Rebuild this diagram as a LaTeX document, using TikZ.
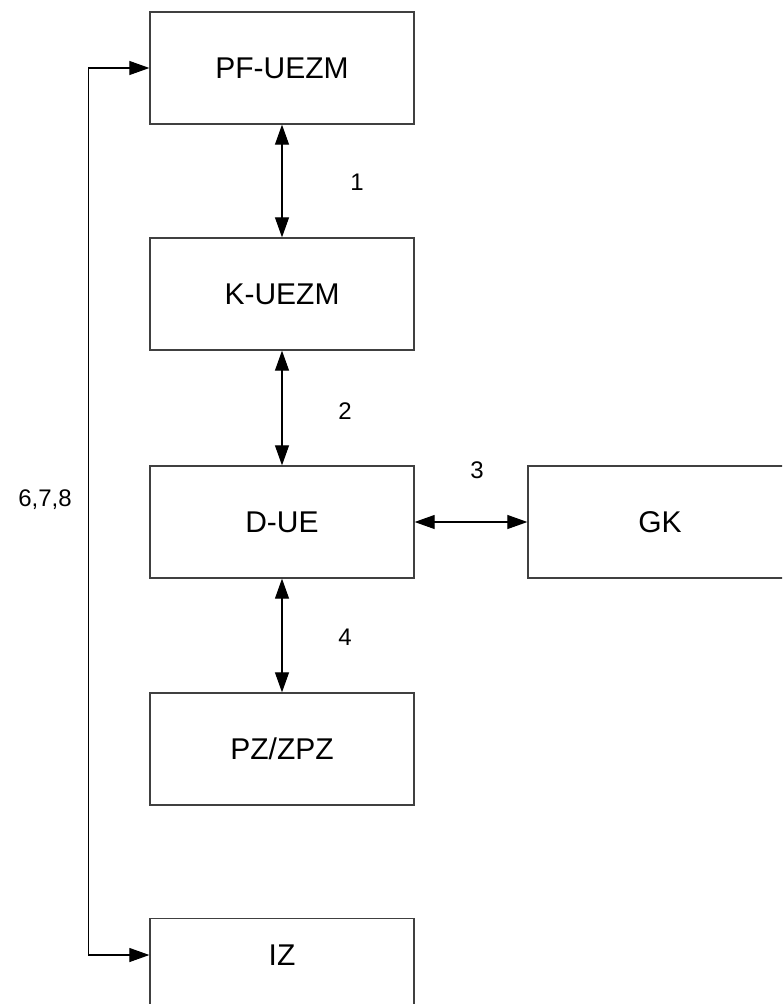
\documentclass[tikz,border=0pt]{standalone}
\usepackage{fontspec}
\setmainfont{Liberation Sans}
\usetikzlibrary{arrows.meta}
\begin{document}
\begin{tikzpicture}[x=1pt,y=-1pt,
  blk/.style={draw=black!75, line width=1.3pt, minimum width=264pt, minimum height=112pt, inner sep=0pt, font=\fontsize{30}{36}\selectfont},
  lbl/.style={font=\fontsize{24}{28}\selectfont, inner sep=0pt},
  conn/.style={line width=1.1pt, black, {Triangle[length=20pt,width=14pt]}-{Triangle[length=20pt,width=14pt]}}]
\useasboundingbox (0,0) rectangle (782,1004);
\clip (0,0) rectangle (782,1004);
\fill[white] (0,0) rectangle (782,1004);
\node[blk] (PF) at (282,68) {PF-UEZM};
\node[blk] (K) at (282,294) {K-UEZM};
\node[blk] (D) at (282,522) {D-UE};
\node[blk] (GK) at (660,522) {GK};
\node[blk] (PZ) at (282,749) {PZ/ZPZ};
\node[blk, anchor=north] (IZbox) at (282,918) {};
\node[font=\fontsize{30}{36}\selectfont, inner sep=0pt] (IZ) at (282,955) {IZ};
\draw[conn] (PF) -- (K);
\draw[conn] (K) -- (D);
\draw[conn] (D) -- (GK);
\draw[conn] (D) -- (PZ);
\draw[conn] (PF.west) -- ++(-61,0) |- (IZbox.west |- IZ);
\node[lbl] (l1) at (357,182) {1};
\node[lbl] (l2) at (345,411) {2};
\node[lbl] (l3) at (477,470) {3};
\node[lbl] (l4) at (345,637) {4};
\node[lbl] (l5) at (45,500) {6,7,8};
\end{tikzpicture}
\end{document}
